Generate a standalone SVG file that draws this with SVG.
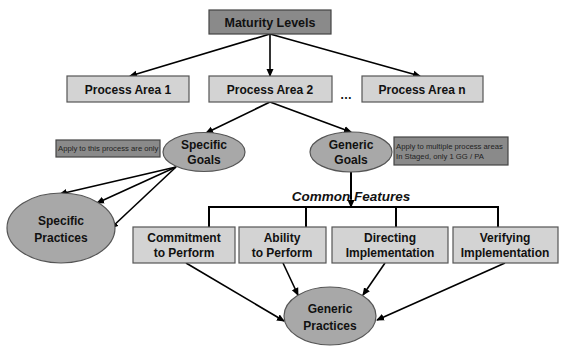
<svg xmlns="http://www.w3.org/2000/svg" width="561" height="346" viewBox="0 0 561 346">
<defs>
<marker id="ah" markerWidth="8" markerHeight="8" refX="7" refY="4" orient="auto" markerUnits="userSpaceOnUse">
<path d="M0,0.5 L8,4 L0,7.5 Z" fill="#000"/>
</marker>
<style>
.box{fill:#d3d3d3;stroke:#555;stroke-width:1.2}
.dark{fill:#8a8a8a;stroke:#444;stroke-width:1.2}
.ell{fill:#a8a8a8;stroke:#555;stroke-width:1.2}
.t{font-family:"Liberation Sans",Arial,sans-serif;font-weight:bold;font-size:12px;fill:#111;text-anchor:middle}
.s{font-family:"Liberation Sans",Arial,sans-serif;font-size:7.7px;fill:#222}
.c{stroke:#000;stroke-width:2;fill:none}
.a{stroke:#000;stroke-width:1.6;fill:none;marker-end:url(#ah)}
</style>
</defs>
<rect width="561" height="346" fill="#fff"/>
<g id="connectors">
<line class="a" x1="270" y1="34" x2="130" y2="76"/>
<line class="a" x1="270" y1="34" x2="270" y2="76"/>
<line class="a" x1="270" y1="34" x2="420" y2="76"/>
<line class="a" x1="270" y1="102" x2="206" y2="133"/>
<line class="a" x1="270" y1="102" x2="351" y2="132"/>
<line class="a" x1="176" y1="167" x2="60" y2="194"/>
<line class="a" x1="176" y1="167" x2="97" y2="203"/>
<line class="a" x1="176" y1="167" x2="111" y2="228"/>
<line class="c" x1="351" y1="172" x2="351" y2="199"/>
<line class="a" x1="351" y1="195" x2="351" y2="207"/>
<polyline class="c" points="209,227 209,207 498,207 498,227"/>
<line class="c" x1="306" y1="207" x2="306" y2="227"/>
<line class="c" x1="396" y1="207" x2="396" y2="227"/>
<line class="a" x1="186" y1="263" x2="284" y2="321"/>
<line class="a" x1="283" y1="263" x2="298" y2="295"/>
<line class="a" x1="385" y1="263" x2="363" y2="295"/>
<line class="a" x1="505" y1="263" x2="377" y2="320"/>
</g>
<g id="maturity"><rect class="dark" x="209" y="10" width="122" height="24"/><text class="t" x="270" y="27" style="font-size:12.5px">Maturity Levels</text></g>
<g id="pa1"><rect class="box" x="67" y="76" width="122" height="26"/><text class="t" x="128" y="93.5">Process Area 1</text></g>
<g id="pa2"><rect class="box" x="209" y="76" width="123" height="26"/><text class="t" x="270" y="93.5">Process Area 2</text></g>
<g id="dots"><text class="t" x="346" y="99">…</text></g>
<g id="pan"><rect class="box" x="362" y="76" width="121" height="26"/><text class="t" x="422" y="93.5">Process Area n</text></g>
<g id="sg"><ellipse class="ell" cx="204" cy="152" rx="41" ry="19.5"/><text class="t" x="204" y="149">Specific</text><text class="t" x="204" y="164">Goals</text></g>
<g id="note1"><rect class="dark" x="56" y="140" width="104" height="17"/><text class="s" x="58" y="151">Apply to this  process are only</text></g>
<g id="gg"><ellipse class="ell" cx="351" cy="152" rx="41" ry="20"/><text class="t" x="351" y="149">Generic</text><text class="t" x="351" y="164">Goals</text></g>
<g id="note2"><rect class="dark" x="394" y="137" width="114" height="28"/><text class="s" x="396" y="149">Apply to multiple process areas</text><text class="s" x="396" y="159">In Staged, only 1 GG / PA</text></g>
<g id="sp"><ellipse class="ell" cx="61" cy="228" rx="54" ry="35"/><text class="t" x="61" y="225">Specific</text><text class="t" x="61" y="242">Practices</text></g>
<g id="cf"><text class="t" x="351" y="201" style="font-size:13.5px;font-style:italic">Common Features</text></g>
<g id="commit"><rect class="box" x="133" y="227" width="102" height="36"/><text class="t" x="184" y="242">Commitment</text><text class="t" x="184" y="257">to Perform</text></g>
<g id="ability"><rect class="box" x="239" y="227" width="87" height="36"/><text class="t" x="282" y="242">Ability</text><text class="t" x="282" y="257">to Perform</text></g>
<g id="directing"><rect class="box" x="332" y="227" width="116" height="36"/><text class="t" x="390" y="242">Directing</text><text class="t" x="390" y="257">Implementation</text></g>
<g id="verifying"><rect class="box" x="453" y="227" width="105" height="36"/><text class="t" x="505" y="242">Verifying</text><text class="t" x="505" y="257">Implementation</text></g>
<g id="gp"><ellipse class="ell" cx="330" cy="316" rx="46" ry="29"/><text class="t" x="330" y="313">Generic</text><text class="t" x="330" y="330">Practices</text></g>
</svg>
